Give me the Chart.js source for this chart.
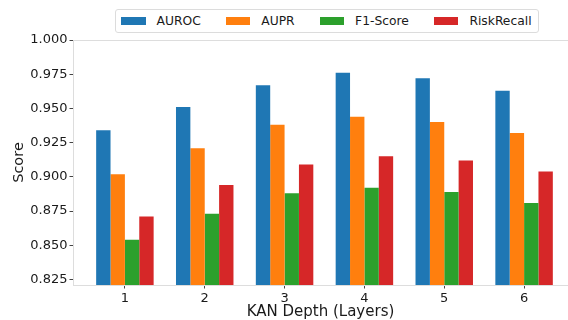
<!DOCTYPE html>
<html>
<head>
<meta charset="utf-8">
<script src="https://cdn.jsdelivr.net/npm/chart.js@4/dist/chart.umd.min.js"></script>
<style>
  html, body { margin:0; padding:0; background:#fff; }
  #wrap { position:relative; width:568px; height:320px; overflow:hidden; }
  #legend { position:absolute; left:115px; top:9px; height:24px; box-sizing:border-box;
    border:1px solid #dcdcdc; border-radius:3px; background:#fff;
    display:flex; align-items:center; padding:0 6px 0 5px;
    font-family:"DejaVu Sans", sans-serif; font-size:12.3px; color:#1a1a1a; }
  .item { display:flex; align-items:center; }
  .item + .item { margin-left:25px; }
  .sw { width:24.5px; height:8px; margin-right:11px; }
</style>
</head>
<body>
<div id="wrap">
  <canvas id="c" width="568" height="320"></canvas>
  <div id="legend"></div>
</div>
<script>
const categories = ['1', '2', '3', '4', '5', '6'];
const seriesNames = ['AUROC', 'AUPR', 'F1-Score', 'RiskRecall'];
const auroc      = [0.934, 0.951, 0.967, 0.976, 0.972, 0.963];
const aupr       = [0.902, 0.921, 0.938, 0.944, 0.940, 0.932];
const f1score    = [0.854, 0.873, 0.888, 0.892, 0.889, 0.881];
const riskRecall = [0.871, 0.894, 0.909, 0.915, 0.912, 0.904];
const yTicks = [0.825, 0.850, 0.875, 0.900, 0.925, 0.950, 0.975, 1.000];
const colors = ['#1f77b4', '#ff7f0e', '#2ca02c', '#d62728'];

const seriesValues = [auroc, aupr, f1score, riskRecall];
const datasets = seriesNames.map((name, k) => ({
  label: name,
  data: seriesValues[k].map((v, i) => ({ x: i, y: v })),
  backgroundColor: colors[k],
  borderWidth: 0,
  categoryPercentage: 0.72,
  barPercentage: 1.0
}));

const lg = document.getElementById('legend');
seriesNames.forEach((n, k) => {
  const it = document.createElement('div'); it.className = 'item';
  const sw = document.createElement('div'); sw.className = 'sw'; sw.style.background = colors[k];
  const tx = document.createElement('span'); tx.textContent = n;
  it.appendChild(sw); it.appendChild(tx); lg.appendChild(it);
});

const topSpine = {
  id: 'topSpine',
  afterDraw(chart) {
    const { ctx, chartArea } = chart;
    ctx.save();
    ctx.strokeStyle = '#dddddd';
    ctx.lineWidth = 1;
    ctx.beginPath();
    ctx.moveTo(chartArea.left, chartArea.top + 0.5);
    ctx.lineTo(chartArea.right, chartArea.top + 0.5);
    ctx.stroke();
    ctx.restore();
  }
};

const font = { family: '"DejaVu Sans", sans-serif', size: 13 };
new Chart(document.getElementById('c'), {
  type: 'bar',
  data: { datasets },
  plugins: [topSpine],
  options: {
    responsive: false,
    animation: false,
    layout: { padding: { top: 40, left: 0, right: 0, bottom: 0 } },
    plugins: { legend: { display: false }, tooltip: { enabled: false } },
    scales: {
      x: {
        type: 'linear',
        offset: false,
        min: -0.65,
        max: 5.55,
        afterBuildTicks(s) { s.ticks = categories.map((c, i) => ({ value: i })); },
        afterFit(s) { s.height = 35; },
        ticks: { font, color: '#1a1a1a', padding: 2, callback: (v) => categories[v] ?? '', maxRotation: 0, autoSkip: false },
        grid: { offset: false, drawOnChartArea: false, tickLength: 3.5, color: '#444' },
        border: { color: '#dddddd' },
        title: { display: true, text: 'KAN Depth (Layers)', color: '#1a1a1a',
                 font: { family: '"DejaVu Sans", sans-serif', size: 15, lineHeight: 1 }, padding: 0 }
      },
      y: {
        min: 0.821,
        max: 1.0,
        afterBuildTicks(s) { s.ticks = yTicks.map(v => ({ value: v })); },
        afterFit(s) { s.width = 73; },
        ticks: { font, color: '#1a1a1a', padding: 2, callback: (v) => Number(v).toFixed(3) },
        grid: { drawOnChartArea: false, tickLength: 3.5, color: '#444' },
        border: { color: '#dddddd' },
        title: { display: true, text: 'Score', color: '#1a1a1a',
                 font: { family: '"DejaVu Sans", sans-serif', size: 14.5, lineHeight: 1 }, padding: { top: 12, bottom: 0 } }
      }
    }
  }
});
</script>
</body>
</html>
